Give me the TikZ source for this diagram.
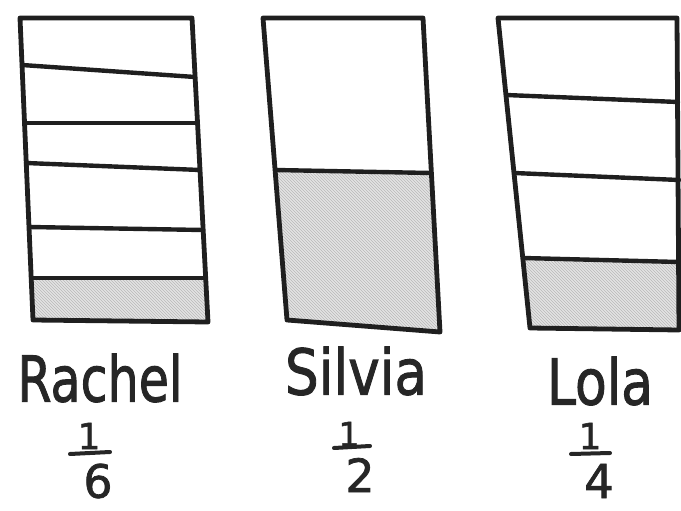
\documentclass[tikz,border=0pt]{standalone}
\usepackage{fontspec}
\setmainfont{DejaVu Sans}
\newfontfamily\handfont{DejaVu Sans}[FakeBold=1.6]
\usetikzlibrary{patterns}
\begin{document}
\begin{tikzpicture}[x=1pt,y=-1pt,
  outline/.style={line width=4.8pt,line join=round,line cap=round,draw=black!88},
  divider/.style={line width=4.4pt,line cap=round,draw=black!88},
  hatch/.style={pattern=north west lines,pattern color=gray!55},
  lbl/.style={inner sep=0pt,text=black!85,font=\handfont},
  fracbar/.style={line width=4pt,line cap=round,draw=black!85}]
\useasboundingbox (0,0) rectangle (681,511);
% ---------- Rachel ----------
\coordinate (rtl) at (20,18); \coordinate (rtr) at (192,18);
\coordinate (rbr) at (208,322); \coordinate (rbl) at (33,320);
\coordinate (rsl) at (31,278); \coordinate (rsr) at (205.7,278);
\fill[gray!22] (rsl) -- (rsr) -- (rbr) -- (rbl) -- cycle;
\fill[hatch] (rsl) -- (rsr) -- (rbr) -- (rbl) -- cycle;
\draw[divider] (22,65) -- (195,77);
\draw[divider] (24.5,123) -- (197.5,123);
\draw[divider] (26,163) -- (200,170);
\draw[divider] (29,227) -- (203,230);
\draw[divider] (rsl) -- (rsr);
\draw[outline] (rtl) -- (rtr) -- (rbr) -- (rbl) -- cycle;
% ---------- Silvia ----------
\coordinate (stl) at (263,18); \coordinate (str) at (423,18);
\coordinate (sbr) at (440,332); \coordinate (sbl) at (287,320);
\coordinate (ssl) at (275,170); \coordinate (ssr) at (431,173);
\fill[gray!22] (ssl) -- (ssr) -- (sbr) -- (sbl) -- cycle;
\fill[hatch] (ssl) -- (ssr) -- (sbr) -- (sbl) -- cycle;
\draw[divider] (ssl) -- (ssr);
\draw[outline] (stl) -- (str) -- (sbr) -- (sbl) -- cycle;
% ---------- Lola ----------
\coordinate (ltl) at (498,18); \coordinate (ltr) at (677,18);
\coordinate (lbr) at (679,330); \coordinate (lbl) at (530,328);
\coordinate (lsl) at (523,258); \coordinate (lsr) at (679,262);
\fill[gray!22] (lsl) -- (lsr) -- (lbr) -- (lbl) -- cycle;
\fill[hatch] (lsl) -- (lsr) -- (lbr) -- (lbl) -- cycle;
\draw[divider] (506,95) -- (678,102);
\draw[divider] (514,173) -- (679,180);
\draw[divider] (lsl) -- (lsr);
\draw[outline] (ltl) -- (ltr) -- (lbr) -- (lbl) -- cycle;
% ---------- labels ----------
\node[lbl] (rname) at (100,378) {\resizebox{165pt}{48pt}{Rachel}};
\node[lbl] (sname) at (356,371) {\resizebox{142pt}{48pt}{Silvia}};
\node[lbl] (lname) at (600,381) {\resizebox{106pt}{48pt}{Lola}};
% fractions
\node[lbl] (rnum) at (89,436) {\resizebox{!}{26pt}{1}};
\draw[fracbar] (70,454) -- (110,452);
\node[lbl] (rden) at (98,481) {\resizebox{!}{34pt}{6}};
\node[lbl] (snum) at (349,434) {\resizebox{!}{24pt}{1}};
\draw[fracbar] (334,448) -- (370,446);
\node[lbl] (sden) at (360,475) {\resizebox{!}{34pt}{2}};
\node[lbl] (lnum) at (590,436) {\resizebox{!}{26pt}{1}};
\draw[fracbar] (571,454) -- (610,453);
\node[lbl] (lden) at (599,481) {\resizebox{!}{34pt}{4}};
\end{tikzpicture}
\end{document}
